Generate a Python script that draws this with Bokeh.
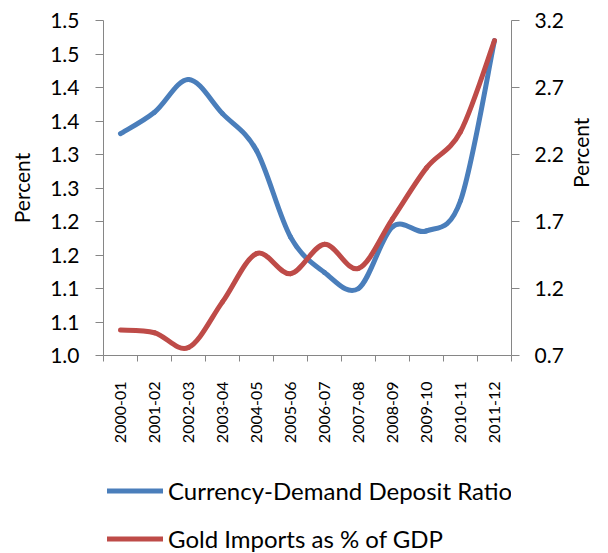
import math
from bokeh.plotting import figure
from bokeh.layouts import column
from bokeh.models import (LinearAxis, Range1d, FixedTicker, Legend, LegendItem,
                          ColumnDataSource)
from bokeh.embed import file_html
from bokeh.resources import INLINE

# ---------------- data ----------------
categories = ["2000-01", "2001-02", "2002-03", "2003-04", "2004-05", "2005-06",
              "2006-07", "2007-08", "2008-09", "2009-10", "2010-11", "2011-12"]
currency_ratio = [1.331, 1.363, 1.412, 1.361, 1.306, 1.177,
                  1.124, 1.100, 1.192, 1.186, 1.231, 1.470]
gold_imports = [0.89, 0.87, 0.76, 1.10, 1.46, 1.31,
                1.53, 1.35, 1.72, 2.10, 2.37, 3.05]
left_ticks = [1.0, 1.05, 1.1, 1.15, 1.2, 1.25, 1.3, 1.35, 1.4, 1.45, 1.5]
left_tick_labels = ["1.0", "1.1", "1.1", "1.2", "1.2", "1.3",
                    "1.3", "1.4", "1.4", "1.5", "1.5"]
right_ticks = [0.7, 1.2, 1.7, 2.2, 2.7, 3.2]
right_tick_labels = ["0.7", "1.2", "1.7", "2.2", "2.7", "3.2"]
series_names = ["Currency-Demand Deposit Ratio", "Gold Imports as % of GDP"]

BLUE = "#4A7EBB"
RED = "#BE4B48"
AXIS = "#868686"
FONT = "Lato"


def bezier_source(ys):
    """Smoothed line (Excel style) as cubic Bezier segments through the points."""
    xs = list(range(len(ys)))
    n = len(xs)
    d = dict(x0=[], y0=[], x1=[], y1=[], cx0=[], cy0=[], cx1=[], cy1=[])
    for i in range(n - 1):
        im1 = max(i - 1, 0)
        ip2 = min(i + 2, n - 1)
        d["x0"].append(xs[i]); d["y0"].append(ys[i])
        d["x1"].append(xs[i + 1]); d["y1"].append(ys[i + 1])
        d["cx0"].append(xs[i] + (xs[i + 1] - xs[im1]) / 6.0)
        d["cy0"].append(ys[i] + (ys[i + 1] - ys[im1]) / 6.0)
        d["cx1"].append(xs[i + 1] - (xs[ip2] - xs[i]) / 6.0)
        d["cy1"].append(ys[i + 1] - (ys[ip2] - ys[i]) / 6.0)
    return ColumnDataSource(d)


p = figure(width=608, height=460,
           x_range=Range1d(-0.5, len(categories) - 0.5),
           y_range=Range1d(left_ticks[0], left_ticks[-1]),
           output_backend="svg", toolbar_location=None,
           min_border_left=103, min_border_right=94,
           min_border_top=20, min_border_bottom=105)
p.extra_y_ranges = {"right": Range1d(right_ticks[0], right_ticks[-1])}
p.outline_line_color = None
p.grid.visible = False
p.background_fill_color = "white"
p.border_fill_color = "white"

# x axis
xa = p.xaxis[0]
xa.ticker = FixedTicker(ticks=list(range(len(categories))),
                        minor_ticks=[i - 0.5 for i in range(len(categories) + 1)])
xa.major_label_overrides = {i: c for i, c in enumerate(categories)}
xa.major_label_orientation = math.pi / 2
xa.major_tick_line_color = None
xa.major_tick_out = 6
xa.major_tick_in = 0
xa.minor_tick_out = 6
xa.minor_tick_in = 0
xa.minor_tick_line_color = AXIS
xa.axis_line_color = AXIS
xa.major_label_standoff = 20
xa.major_label_text_font = FONT
xa.major_label_text_font_size = "16px"
xa.major_label_text_color = "black"

# left y axis
ya = p.yaxis[0]
ya.ticker = FixedTicker(ticks=left_ticks)
ya.major_label_overrides = dict(zip(left_ticks, left_tick_labels))
ya.major_tick_out = 8
ya.major_tick_in = 0
ya.minor_tick_out = 0
ya.minor_tick_in = 0
ya.major_tick_line_color = AXIS
ya.axis_line_color = AXIS
ya.major_label_standoff = 16
ya.major_label_text_font = FONT
ya.major_label_text_font_size = "21px"
ya.major_label_text_color = "black"
ya.axis_label = "Percent"
ya.axis_label_text_font = FONT
ya.axis_label_text_font_size = "21px"
ya.axis_label_text_font_style = "normal"
ya.axis_label_text_color = "black"
ya.axis_label_standoff = 13

# right y axis
ra = LinearAxis(y_range_name="right", ticker=FixedTicker(ticks=right_ticks),
                major_label_overrides=dict(zip(right_ticks, right_tick_labels)))
ra.major_tick_out = 8
ra.major_tick_in = 0
ra.minor_tick_out = 0
ra.minor_tick_in = 0
ra.major_tick_line_color = AXIS
ra.axis_line_color = AXIS
ra.major_label_standoff = 15
ra.major_label_text_font = FONT
ra.major_label_text_font_size = "21px"
ra.major_label_text_color = "black"
ra.axis_label = "Percent"
ra.axis_label_text_font = FONT
ra.axis_label_text_font_size = "21px"
ra.axis_label_text_font_style = "normal"
ra.axis_label_text_color = "black"
ra.axis_label_standoff = 14
if "axis_label_orientation" in ra.properties():
    ra.axis_label_orientation = math.pi / 2
p.add_layout(ra, "right")

# smoothed lines
src_blue = bezier_source(currency_ratio)
src_red = bezier_source(gold_imports)
p.bezier("x0", "y0", "x1", "y1", "cx0", "cy0", "cx1", "cy1", source=src_blue,
         line_color=BLUE, line_width=5, line_cap="round")
p.bezier("x0", "y0", "x1", "y1", "cx0", "cy0", "cx1", "cy1", source=src_red,
         line_color=RED, line_width=5, line_cap="round", y_range_name="right")

# legend strip below the chart (its renderers are hidden; only the legend shows)
pl = figure(width=608, height=93, x_range=Range1d(0, 1), y_range=Range1d(0, 1),
            x_axis_type=None, y_axis_type=None,
            output_backend="svg", toolbar_location=None, min_border=0)
pl.outline_line_color = None
pl.grid.visible = False
idx = list(range(len(categories)))
lb = pl.line(idx, currency_ratio, line_color=BLUE, line_width=5, line_cap="round",
             visible=False)
lr = pl.line(idx, gold_imports, line_color=RED, line_width=5, line_cap="round",
             visible=False)
legend = Legend(items=[LegendItem(label=series_names[0], renderers=[lb]),
                       LegendItem(label=series_names[1], renderers=[lr])],
                location=(4, 0), orientation="vertical",
                glyph_width=56, glyph_height=29, label_height=29, spacing=19,
                padding=0, margin=0, label_standoff=5,
                label_text_font=FONT, label_text_font_size="24px",
                label_text_color="black",
                border_line_color=None, background_fill_alpha=0)
pl.add_layout(legend)

layout = column(p, pl, spacing=0)
open("out.html", "w").write(file_html(layout, INLINE))
